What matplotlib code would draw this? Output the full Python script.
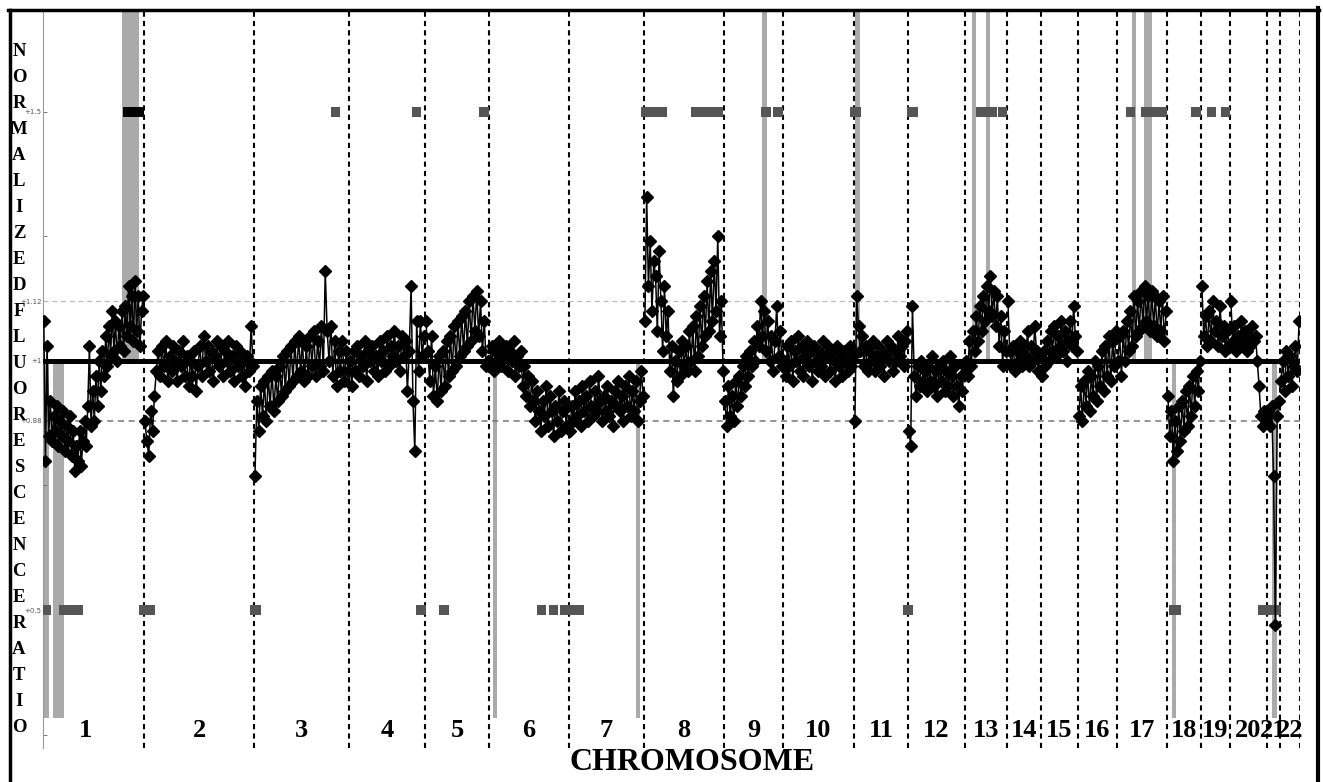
import matplotlib.pyplot as plt
import numpy as np
from matplotlib.lines import Line2D

# chromosome boundaries along the genome axis (plot position units)
chrom_edges = [43, 144, 254, 349, 425, 489, 569, 644, 724, 783, 854, 908,
               965, 1007, 1041, 1078, 1117, 1167, 1201, 1230, 1267, 1280, 1300]
chrom_names = [str(i) for i in range(1, 23)]

# normalized fluorescence ratios, one list per chromosome (pter -> qter)
chr_ratios = [
    [1.08, 0.80, 1.03, 0.85, 0.92, 0.84, 0.89, 0.86, 0.91, 0.83, 0.88, 0.85, 0.90, 0.82,
     0.87, 0.84, 0.89, 0.81, 0.86, 0.78, 0.83, 0.80, 0.86, 0.79, 0.84, 0.88, 0.83, 0.91,
     1.03, 0.87, 0.94, 0.88, 0.97, 0.91, 1.00, 0.94, 1.02, 0.97, 1.05, 0.99, 1.07, 1.01,
     1.10, 1.02, 1.08, 1.00, 1.07, 1.03, 1.10, 1.02, 1.11, 1.05, 1.15, 1.07, 1.13, 1.04,
     1.16, 1.06, 1.13, 1.03, 1.10, 1.13],
    [0.88, 0.84, 0.81, 0.90, 0.86, 0.93, 0.98, 1.02, 0.97, 1.03, 0.99, 1.04, 0.96, 1.01,
     0.98, 1.03, 1.00, 0.96, 1.02, 0.99, 1.04, 0.97, 1.01, 0.95, 1.00, 0.97, 1.02, 0.94,
     0.99, 1.03, 0.97, 1.05, 1.00, 1.03, 0.98, 1.02, 0.96, 1.01, 1.04, 0.99, 1.03, 0.97,
     1.02, 1.00, 1.04, 0.98, 1.01, 0.96, 1.03, 0.99, 1.02, 0.97, 1.00, 0.95, 1.01, 0.98,
     1.07, 0.99],
    [0.77, 0.92, 0.86, 0.95, 0.89, 0.96, 0.88, 0.97, 0.91, 0.98, 0.90, 0.97, 0.92, 0.99,
     0.93, 1.01, 0.94, 1.02, 0.95, 1.03, 0.96, 1.04, 0.97, 1.05, 0.98, 1.04, 0.96, 1.03,
     0.97, 1.05, 0.99, 1.06, 0.97, 1.04, 0.99, 1.07, 0.98, 1.18, 1.06, 1.00, 1.07, 0.97,
     1.04, 0.95, 1.02, 0.98, 1.04, 0.96, 1.02, 0.98],
    [1.00, 0.95, 1.02, 0.98, 1.03, 0.97, 1.01, 0.99, 1.04, 0.96, 1.02, 1.00, 1.03, 0.98,
     1.01, 0.97, 1.04, 1.00, 1.02, 0.98, 1.05, 0.99, 1.03, 1.01, 1.06, 1.00, 1.03, 0.98,
     1.05, 1.01, 1.04, 0.94, 1.02, 1.15, 0.92, 0.82, 1.08, 0.98, 1.08, 1.01, 1.05],
    [1.08, 1.02, 0.96, 1.05, 0.93, 0.99, 0.92, 1.01, 0.94, 1.02, 0.95, 1.04, 0.97, 1.05,
     0.98, 1.07, 0.99, 1.08, 1.01, 1.09, 1.02, 1.10, 1.03, 1.12, 1.04, 1.13, 1.06, 1.14,
     1.05, 1.12, 1.02, 1.08, 0.99, 1.00],
    [1.00, 1.03, 0.98, 1.02, 1.00, 1.04, 0.99, 1.02, 1.01, 1.03, 0.98, 1.02, 1.00, 1.04,
     0.97, 1.01, 0.99, 1.02, 0.95, 0.99, 0.93, 0.97, 0.91, 0.96, 0.92, 0.88, 0.94, 0.90,
     0.86, 0.92, 0.89, 0.95, 0.87, 0.93, 0.90, 0.85, 0.91, 0.88, 0.94, 0.86, 0.90, 0.92,
     0.87, 0.91],
    [0.86, 0.91, 0.88, 0.94, 0.89, 0.92, 0.87, 0.95, 0.90, 0.93, 0.88, 0.96, 0.91, 0.89,
     0.94, 0.90, 0.97, 0.92, 0.88, 0.93, 0.90, 0.95, 0.89, 0.92, 0.87, 0.94, 0.91, 0.96,
     0.90, 0.93, 0.88, 0.95, 0.91, 0.97, 0.89, 0.94, 0.90, 0.96, 0.88, 0.92, 0.98, 0.93],
    [1.08, 1.33, 1.15, 1.24, 1.10, 1.20, 1.17, 1.06, 1.22, 1.12, 1.02, 1.15, 1.05, 1.10,
     0.98, 1.03, 0.93, 1.00, 0.96, 1.02, 0.97, 1.04, 0.99, 1.03, 0.98, 1.06, 1.00, 1.07,
     0.98, 1.09, 1.01, 1.11, 1.03, 1.13, 1.05, 1.16, 1.06, 1.18, 1.08, 1.20, 1.10, 1.25,
     1.05, 1.12, 0.98],
    [0.92, 0.87, 0.95, 0.89, 0.93, 0.88, 0.96, 0.91, 0.97, 0.93, 0.99, 0.95, 1.01, 0.97,
     1.02, 0.99, 1.04, 1.00, 1.07, 1.03, 1.12, 1.05, 1.10, 1.02, 1.08, 1.00, 1.05, 0.98,
     1.04, 1.11, 1.01, 1.06, 0.99],
    [1.00, 0.97, 1.03, 0.99, 1.04, 0.96, 1.02, 1.00, 1.05, 0.98, 1.03, 0.97, 1.01, 1.04,
     0.99, 1.02, 0.96, 1.03, 1.00, 0.98, 1.02, 0.99, 1.04, 0.97, 1.01, 1.03, 0.98, 1.02,
     1.00, 0.96, 1.03, 0.99, 1.01, 0.97, 1.02, 1.00, 0.98, 1.03, 0.99, 1.01],
    [0.88, 1.13, 1.07, 1.02, 1.05, 0.99, 1.03, 0.98, 1.02, 1.00, 1.04, 0.98, 1.01, 1.03,
     0.99, 1.02, 0.97, 1.01, 1.04, 1.00, 1.03, 0.98, 1.02, 1.00, 1.05, 1.01, 1.03, 0.99,
     1.04, 1.06],
    [0.86, 0.83, 1.11, 0.97, 0.93, 0.99, 0.95, 1.00, 0.96, 0.98, 0.94, 0.99, 0.96, 1.01,
     0.95, 0.98, 0.93, 0.99, 0.96, 1.00, 0.94, 0.98, 0.95, 1.01, 0.97, 0.93, 0.99, 0.95,
     0.91, 0.97, 0.94, 0.99],
    [1.00, 0.97, 1.04, 0.99, 1.06, 1.02, 1.09, 1.04, 1.11, 1.06, 1.13, 1.08, 1.15, 1.10,
     1.17, 1.09, 1.14, 1.07, 1.13, 1.03, 1.09, 0.99, 1.06, 1.02],
    [1.12, 1.02, 0.99, 1.03, 0.98, 1.02, 1.00, 1.04, 0.99, 1.03, 1.01, 1.06, 0.99, 1.03,
     1.00, 1.07, 1.02, 0.98, 1.01],
    [0.97, 1.02, 0.99, 1.04, 1.00, 1.06, 1.02, 1.07, 1.01, 1.05, 1.03, 1.08, 1.02, 1.06,
     1.00, 1.04, 1.08, 1.03, 1.11, 1.05, 1.02],
    [0.89, 0.95, 0.88, 0.96, 0.91, 0.98, 0.90, 0.97, 0.93, 1.00, 0.92, 0.99, 0.95, 1.02,
     0.94, 1.03, 0.97, 1.05, 0.96, 1.04, 0.99, 1.06],
    [1.00, 1.05, 0.97, 1.06, 1.00, 1.08, 1.02, 1.10, 1.03, 1.13, 1.05, 1.12, 1.06, 1.14,
     1.07, 1.15, 1.08, 1.13, 1.06, 1.14, 1.07, 1.13, 1.05, 1.12, 1.06, 1.13, 1.04, 1.10],
    [0.93, 0.85, 0.90, 0.80, 0.88, 0.82, 0.91, 0.84, 0.92, 0.86, 0.94, 0.87, 0.95, 0.89,
     0.97, 0.91, 0.98, 0.94, 1.00],
    [1.15, 1.05, 1.09, 1.03, 1.10, 1.04, 1.12, 1.06, 1.08, 1.03, 1.11, 1.05, 1.07, 1.02,
     1.06, 1.03],
    [1.12, 1.04, 1.07, 1.02, 1.05, 1.03, 1.08, 1.04, 1.06, 1.02, 1.05, 1.03, 1.07, 1.04,
     1.05, 1.00, 0.95, 0.89, 0.87, 0.90, 0.88],
    [0.90, 0.87, 0.91, 0.77, 0.47, 0.89, 0.92],
    [0.96, 1.00, 0.94, 1.02, 0.97, 1.01, 0.95, 0.99, 1.03, 0.98, 1.08],
]

# significant gain / loss calls (start, end) drawn at +1.5 and +0.5
gain_calls = [(331, 340), (412, 421), (479, 489), (641, 667), (691, 723), (761, 771),
              (773, 783), (850, 861), (907, 918), (976, 997), (998, 1007), (1126, 1135),
              (1141, 1167), (1191, 1201), (1207, 1216), (1221, 1230)]
gain_call_chr1 = (123, 144)
loss_calls = [(42, 51), (59, 83), (139, 155), (250, 261), (416, 426), (439, 449),
              (537, 546), (549, 558), (560, 584), (903, 913), (1169, 1181), (1258, 1281)]

# shaded gain / loss regions (start, end)
gain_regions = [(122, 139), (762, 767), (855, 860), (972, 976), (986, 990),
                (1132, 1136), (1144, 1152)]
loss_regions = [(43, 49), (53, 64), (493, 497), (636, 640), (1172, 1176), (1272, 1277)]

ytick_vals = [0.25, 0.5, 0.75, 0.88, 1.0, 1.12, 1.25, 1.5]
ytick_text = ['', '+0.5', '', '+0.88', '+1', '+1.12', '', '+1.5']

fig = plt.figure(figsize=(13.23, 7.82), dpi=100)
ax = fig.add_axes([43 / 1323, 1 - 748 / 782, 1257 / 1323, 738 / 782])
ax.set_xlim(43, 1300)
ax.set_ylim(0.2229, 1.7048)

# shaded regions
for a, b in gain_regions:
    ax.bar(a, 1.7048 - 1.0, width=b - a, bottom=1.0, align='edge',
           color='#aaaaaa', zorder=1)
for a, b in loss_regions:
    ax.bar(a, 0.283 - 1.0, width=b - a, bottom=1.0, align='edge',
           color='#aaaaaa', zorder=1)

# reference lines
ax.axhline(1.12, color='#bbbbbb', lw=0.9, ls=(0, (4, 3)), zorder=2)
ax.axhline(0.88, color='#777777', lw=1.1, ls=(0, (4, 3)), zorder=2)
for x in chrom_edges[1:]:
    ax.axvline(x, color='black', lw=1.5, ls=(0, (2.5, 2)), zorder=2)

# data profile
for i in range(22):
    a, b = chrom_edges[i], chrom_edges[i + 1]
    vals = chr_ratios[i]
    n = len(vals)
    xs = a + (np.arange(n) + 0.5) * (b - a) / n
    ax.plot(xs, vals, color='black', lw=1.1, marker='D', ms=6.5,
            mfc='black', mec='black', zorder=4)

ax.axhline(1.0, color='black', lw=3.6, zorder=5)

# call bars
for a, b in gain_calls:
    ax.bar(a, 0.02, width=b - a, bottom=1.49, align='edge', color='#555555', zorder=3)
ax.bar(gain_call_chr1[0], 0.02, width=gain_call_chr1[1] - gain_call_chr1[0],
       bottom=1.49, align='edge', color='black', zorder=3)
for a, b in loss_calls:
    ax.bar(a, 0.02, width=b - a, bottom=0.49, align='edge', color='#555555', zorder=3)

# chromosome labels
for i, name in enumerate(chrom_names):
    xc = (chrom_edges[i] + chrom_edges[i + 1]) / 2
    if i == 0:
        xc -= 8
    ax.text(xc, 1 - (730 - 361) / 498, name, ha='center', va='center',
            fontsize=19, fontweight='bold', family='Liberation Serif', zorder=6)

for s in ['top', 'right', 'bottom']:
    ax.spines[s].set_visible(False)
ax.spines['left'].set_color('#999999')
ax.spines['left'].set_linewidth(0.8)
ax.set_xticks([])
ax.set_yticks(ytick_vals)
ax.set_yticklabels(ytick_text)
ax.tick_params(axis='y', direction='in', length=3, width=0.6, color='#666666',
               labelsize=5, labelcolor='#555555', pad=1)

fig.text(692 / 1323, 1 - 762 / 782, 'CHROMOSOME', ha='center', va='center',
         fontsize=23, fontweight='bold', family='Liberation Serif')

ylabel = 'NORMALIZEDFLUORESCENCERATIO'
for k, ch in enumerate(ylabel):
    yp = 52 + k * (727 - 52) / (len(ylabel) - 1)
    fig.text(19 / 1323, 1 - yp / 782, ch, ha='center', va='center',
             fontsize=13.5, fontweight='bold', family='Liberation Serif')

# outer frame
fig.add_artist(Line2D([9.5 / 1323, 9.5 / 1323], [0, 1 - 9.5 / 782],
                      transform=fig.transFigure, color='black', lw=2.5))
fig.add_artist(Line2D([8 / 1323, 1319 / 1323], [1 - 9.5 / 782, 1 - 9.5 / 782],
                      transform=fig.transFigure, color='black', lw=2.5))
fig.add_artist(Line2D([1318 / 1323, 1318 / 1323], [0, 1 - 8 / 782],
                      transform=fig.transFigure, color='black', lw=3))

fig.savefig('out.png', dpi=100)
